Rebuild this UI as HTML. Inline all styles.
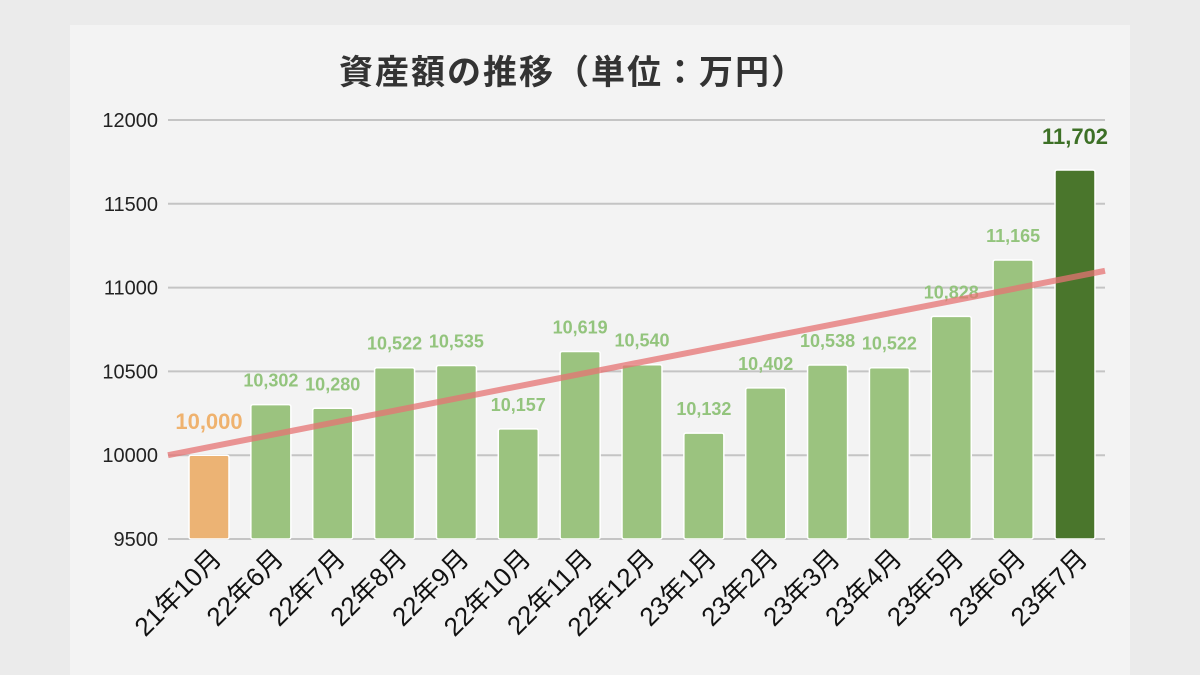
<!DOCTYPE html>
<html><head><meta charset="utf-8"><style>
body{margin:0;background:#ebebeb;width:1200px;height:675px;overflow:hidden;font-family:"Liberation Sans","Noto Sans CJK JP",sans-serif}
#panel{position:absolute;left:70px;top:25px;width:1060px;height:650px;background:#f3f3f3}
svg{position:absolute;left:0;top:0}
</style></head><body>
<div id="panel"></div>
<svg id="chart" width="1200" height="675">
<text x="573" y="84" text-anchor="middle" font-size="34" font-weight="bold" letter-spacing="2" fill="#333">資産額の推移（単位：万円）</text>
</svg>
<script>
const categories=["21年10月","22年6月","22年7月","22年8月","22年9月","22年10月","22年11月","22年12月","23年1月","23年2月","23年3月","23年4月","23年5月","23年6月","23年7月"];
const values=[10000,10302,10280,10522,10535,10157,10619,10540,10132,10402,10538,10522,10828,11165,11702];
const yTicks=[9500,10000,10500,11000,11500,12000];
const trend=[10000,11100];
const svg=document.getElementById('chart');
const NS='http://www.w3.org/2000/svg';
const x0=168,x1=1105,yMin=9500,yMax=12000,pyTop=120,pyBot=539;
const y=v=>pyBot-(v-yMin)/(yMax-yMin)*(pyBot-pyTop);
const n=categories.length;
const xc=i=>209+i*(1075-209)/(n-1);
function el(t,a){const e=document.createElementNS(NS,t);for(const k in a)e.setAttribute(k,a[k]);svg.appendChild(e);return e;}
yTicks.forEach(t=>{
  const g=el('line',{x1:x0,x2:x1,y1:y(t),y2:y(t),stroke:'#c4c4c4','stroke-width':2});
  
  
  const l=el('text',{x:158,y:y(t)+7,'text-anchor':'end','font-size':20,fill:'#222'});
  l.textContent=t;
  
  
});
categories.forEach((c,i)=>{
  const v=values[i];
  const fill=i===0?'#ecb374':(i===n-1?'#4a762c':'#9bc37f');
  const b=el('rect',{x:xc(i)-20,y:y(v),width:40,height:y(yMin)-y(v),fill:fill,stroke:'#fff','stroke-width':1.5,rx:2});
  
  
  const big=(i===0||i===n-1);
  const lc=i===0?'#efb26e':(i===n-1?'#3d7026':'#93c47d');
  const t=el('text',{x:xc(i),y:y(v)-(big?26:18),'text-anchor':'middle','font-size':big?22:18,'font-weight':'bold',fill:lc});
  t.textContent=v.toLocaleString('en-US');
  
  
  const xl=el('text',{x:0,y:0,'text-anchor':'end','font-size':26,fill:'#111',transform:`translate(${xc(i)+14},${560}) rotate(-45)`});
  xl.textContent=c;
  
  
});
const tl=el('line',{x1:x0,y1:y(trend[0]),x2:x1,y2:y(trend[1]),stroke:'#e57373','stroke-opacity':0.75,'stroke-width':6});


</script>
</body></html>
